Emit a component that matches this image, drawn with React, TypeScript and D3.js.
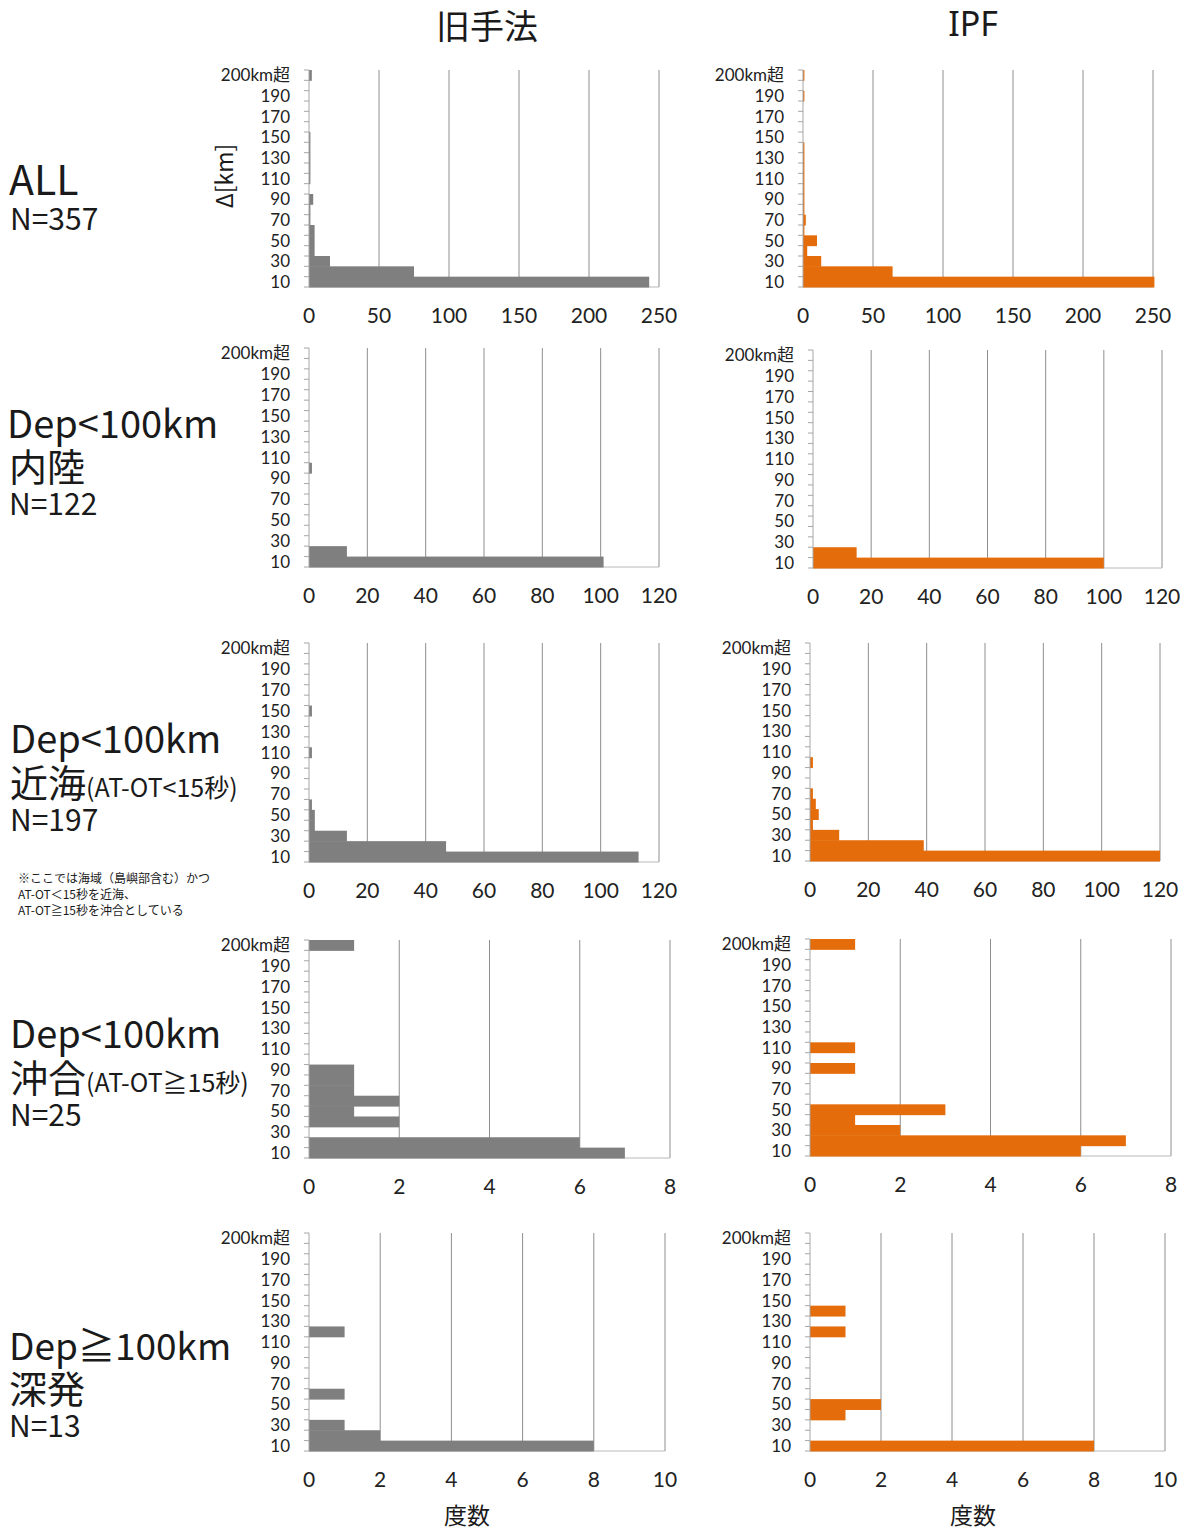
import { useEffect, useRef } from 'react'
import * as d3 from 'd3'

const W = 1188
const H = 1530

// distance bins (km); 200km超 = over 200km
const CATS = ['10', '20', '30', '40', '50', '60', '70', '80', '90', '100',
  '110', '120', '130', '140', '150', '160', '170', '180', '190', '200', '200km超']

// counts per bin (index matches CATS)
const allOld =    [243, 75, 15, 4, 4, 4, 1, 1, 3, 0, 1, 1, 1, 1, 1, 0, 0, 0, 0, 0, 2]
const allIpf =    [251, 64, 13, 3, 10, 1, 2, 1, 1, 1, 1, 1, 1, 1, 0, 0, 0, 0, 1, 0, 1]
const inlandOld = [101, 13, 0, 0, 0, 0, 0, 0, 0, 1, 0, 0, 0, 0, 0, 0, 0, 0, 0, 0, 0]
const inlandIpf = [100, 15, 0, 0, 0, 0, 0, 0, 0, 0, 0, 0, 0, 0, 0, 0, 0, 0, 0, 0, 0]
const nearOld =   [113, 47, 13, 2, 2, 1, 0, 0, 0, 0, 1, 0, 0, 0, 1, 0, 0, 0, 0, 0, 0]
const nearIpf =   [120, 39, 10, 1, 3, 2, 1, 0, 0, 1, 0, 0, 0, 0, 0, 0, 0, 0, 0, 0, 0]
const offOld =    [7, 6, 0, 2, 1, 2, 1, 1, 1, 0, 0, 0, 0, 0, 0, 0, 0, 0, 0, 0, 1]
const offIpf =    [6, 7, 2, 1, 3, 0, 0, 0, 1, 0, 1, 0, 0, 0, 0, 0, 0, 0, 0, 0, 1]
const deepOld =   [8, 2, 1, 0, 0, 1, 0, 0, 0, 0, 0, 1, 0, 0, 0, 0, 0, 0, 0, 0, 0]
const deepIpf =   [8, 0, 0, 1, 2, 0, 0, 0, 0, 0, 0, 1, 0, 1, 0, 0, 0, 0, 0, 0, 0]

const xMax = [250, 120, 120, 8, 10]
const xStep = [50, 20, 20, 2, 2]

const GRAY = '#7f7f7f'
const ORANGE = '#e46c0a'

// plot boxes: [left, top, width, height]
const panels = [
  { data: allOld, row: 0, box: [309, 70, 350, 217], color: GRAY },
  { data: allIpf, row: 0, box: [803, 70, 350, 217], color: ORANGE },
  { data: inlandOld, row: 1, box: [309, 348, 350, 219], color: GRAY },
  { data: inlandIpf, row: 1, box: [813, 350, 349, 218], color: ORANGE },
  { data: nearOld, row: 2, box: [309, 643, 350, 219], color: GRAY },
  { data: nearIpf, row: 2, box: [810, 643, 350, 218], color: ORANGE },
  { data: offOld, row: 3, box: [309, 940, 361, 218], color: GRAY },
  { data: offIpf, row: 3, box: [810, 939, 361, 217], color: ORANGE },
  { data: deepOld, row: 4, box: [309, 1233, 356, 218], color: GRAY },
  { data: deepIpf, row: 4, box: [810, 1233, 355, 218], color: ORANGE },
]

const JP = '"Noto Sans CJK JP", "Noto Sans", sans-serif'
const SANS = '"Noto Sans", "Noto Sans CJK JP", sans-serif'
const TICK = 'Lato, "Noto Sans CJK JP", sans-serif'

export default function App() {
  const svgRef = useRef<SVGSVGElement>(null)

  useEffect(() => {
    const svg = d3.select(svgRef.current).select('g.charts')
    svg.selectAll('*').remove()

    panels.forEach(p => {
      const [left, top, pw, ph] = p.box
      const g = svg.append('g').attr('transform', `translate(${left},${top})`)
      const x = d3.scaleLinear().domain([0, xMax[p.row]]).range([0, pw])
      const y = d3.scaleBand().domain(CATS).range([ph, 0]).padding(0)
      const ticks = d3.range(0, xMax[p.row] + 0.001, xStep[p.row])

      // vertical gridlines
      g.selectAll('line.grid')
        .data(ticks.slice(1))
        .join('line')
        .attr('x1', d => x(d)).attr('x2', d => x(d))
        .attr('y1', 0).attr('y2', ph)
        .attr('stroke', '#8e8e8e')
        .attr('stroke-width', 1)

      // bottom axis line
      g.append('line')
        .attr('x1', 0).attr('x2', pw).attr('y1', ph).attr('y2', ph)
        .attr('stroke', '#b8b8b8')

      // bars
      g.selectAll('rect.bar')
        .data(p.data.map((v, i) => ({ v, c: CATS[i] })).filter(d => d.v > 0))
        .join('rect')
        .attr('x', 0)
        .attr('y', d => y(d.c)!)
        .attr('width', d => x(d.v))
        .attr('height', y.bandwidth() + 0.5)
        .attr('fill', p.color)

      // left axis + ticks between categories
      g.append('line')
        .attr('x1', 0).attr('x2', 0).attr('y1', 0).attr('y2', ph)
        .attr('stroke', '#a6a6a6')
      g.selectAll('line.ytick')
        .data(d3.range(CATS.length + 1))
        .join('line')
        .attr('x1', -5).attr('x2', 0)
        .attr('y1', i => ph - i * y.bandwidth())
        .attr('y2', i => ph - i * y.bandwidth())
        .attr('stroke', '#a6a6a6')

      // y labels (every other category)
      g.selectAll('text.ylab')
        .data(CATS.filter((_, i) => i % 2 === 0))
        .join('text')
        .attr('x', -19)
        .attr('y', d => y(d)! + y.bandwidth() / 2)
        .attr('dy', '0.36em')
        .attr('text-anchor', 'end')
        .attr('font-family', TICK)
        .attr('font-size', 17)
        .attr('fill', '#222')
        .text(d => d)

      // x labels
      g.selectAll('text.xlab')
        .data(ticks)
        .join('text')
        .attr('x', d => x(d))
        .attr('y', ph + 36)
        .attr('text-anchor', 'middle')
        .attr('font-family', TICK)
        .attr('font-size', 21)
        .attr('fill', '#222')
        .text(d => d)
    })
  }, [])

  const big = { fontFamily: JP, fontSize: 38, fill: '#1a1a1a' }
  const mid = { fontFamily: JP, fontSize: 30, fill: '#1a1a1a' }
  const small = { fontFamily: JP, fontSize: 25 }

  return (
    <svg ref={svgRef} width={W} height={H}
      style={{ position: 'absolute', left: 0, top: 0, background: '#fff' }}>
      <g className="charts" />

      {/* column titles */}
      <text x={487} y={39} textAnchor="middle" fontFamily={JP} fontSize={34} fill="#1a1a1a">旧手法</text>
      <text x={973} y={36} textAnchor="middle" fontFamily={SANS} fontSize={34} fill="#1a1a1a">IPF</text>

      {/* axis titles */}
      <text transform="translate(233,176) rotate(-90)" textAnchor="middle" fontFamily={JP} fontSize={23} fill="#1a1a1a">Δ[km]</text>
      <text x={467} y={1524} textAnchor="middle" fontFamily={JP} fontSize={23} fill="#1a1a1a">度数</text>
      <text x={973} y={1524} textAnchor="middle" fontFamily={JP} fontSize={23} fill="#1a1a1a">度数</text>

      {/* row labels */}
      <text x={9} y={195} fontFamily={JP} fontSize={41} fill="#1a1a1a">ALL</text>
      <text x={10} y={230} {...mid}>N=357</text>

      <text x={7} y={438} {...big}>Dep&lt;100km</text>
      <text x={9} y={481} {...big}>内陸</text>
      <text x={9} y={515} {...mid}>N=122</text>

      <text x={10} y={753} {...big}>Dep&lt;100km</text>
      <text x={10} y={797} {...big}>近海<tspan {...small}>(AT-OT&lt;15秒)</tspan></text>
      <text x={10} y={831} {...mid}>N=197</text>
      <text fontFamily={JP} fontSize={12} fill="#1a1a1a">
        <tspan x={18} y={883}>※ここでは海域（島嶼部含む）かつ</tspan>
        <tspan x={18} y={899}>AT-OT＜15秒を近海、</tspan>
        <tspan x={18} y={915}>AT-OT≧15秒を沖合としている</tspan>
      </text>

      <text x={10} y={1048} {...big}>Dep&lt;100km</text>
      <text x={10} y={1092} {...big}>沖合<tspan {...small}>(AT-OT≧15秒)</tspan></text>
      <text x={10} y={1126} {...mid}>N=25</text>

      <text x={9} y={1360} {...big} fontSize={37}>Dep≧100km</text>
      <text x={9} y={1403} {...big}>深発</text>
      <text x={9} y={1437} {...mid}>N=13</text>
    </svg>
  )
}
